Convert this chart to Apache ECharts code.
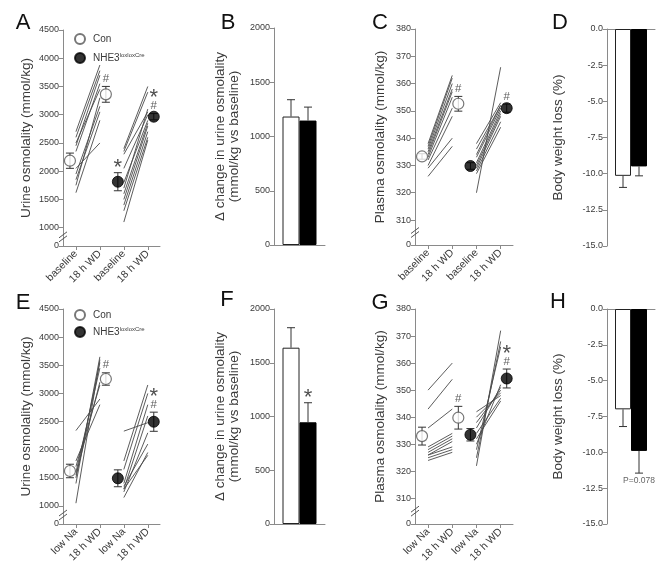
<!DOCTYPE html>
<html><head><meta charset="utf-8">
<script src="https://cdn.jsdelivr.net/npm/echarts@6/dist/echarts.min.js"></script>
<style>html,body{margin:0;padding:0;background:#fff}#c{width:670px;height:573px}</style>
</head><body><div id="c"></div>
<script>
// ---------------- data ----------------
const xLabelsTop = ['baseline', '18 h WD', 'baseline', '18 h WD'];
const xLabelsBottom = ['low Na', '18 h WD', 'low Na', '18 h WD'];
const urineTicks = [1000, 1500, 2000, 2500, 3000, 3500, 4000, 4500];
const plasmaTicks = [310, 320, 330, 340, 350, 360, 370, 380];

// Panel A: urine osmolality, individual animals (baseline -> 18 h WD)
const aConBase = [2700, 2600, 2500, 2450, 2350, 2050, 1950, 1850, 1750, 1620];
const aConWD   = [3880, 3780, 3450, 3700, 3550, 2500, 3150, 3050, 3300, 2900];
const aKoBase  = [2400, 2350, 2300, 2050, 1800, 1700, 1600, 1500, 1400, 1300, 1100];
const aKoWD    = [3500, 3400, 3050, 3000, 2900, 3100, 2850, 2800, 2700, 2600, 2550];
const aConMean = [2186, 3361], aConErr = [135, 140];
const aKoMean  = [1814, 2965], aKoErr  = [160, 55];

// Panel B: delta urine osmolality
const bMean = [1184, 1147], bErr = [155, 124];

// Panel C: plasma osmolality
const cConBase = [338, 337, 336, 335, 334, 333, 332, 330, 329, 326];
const cConWD   = [363, 362, 360, 358, 357, 355, 351, 348, 340, 337];
const cKoBase  = [320, 338, 336, 334, 333, 331, 330, 329, 328, 327];
const cKoWD    = [366, 353, 352, 352, 351, 350, 349, 348, 346, 344];
const cConMean = [333.3, 352.6], cConErr = [1.0, 2.7];
const cKoMean  = [329.8, 351.0], cKoErr  = [1.2, 1.5];

// Panel D: body weight loss
const dMean = [-10.15, -9.5], dErr = [0.8, 0.65];

// Panel E: urine osmolality (low Na -> 18 h WD)
const eConBase = [2340, 1050, 1400, 1500, 1600, 1700, 1800, 1550];
const eConWD   = [2900, 3600, 3650, 3550, 3450, 3150, 2800, 3200];
const eKoBase  = [1800, 1650, 1400, 1300, 1250, 1150, 1300, 2330, 1350];
const eKoWD    = [3150, 3000, 2800, 2600, 2300, 1950, 1900, 2480, 2100];
const eConMean = [1622, 3256], eConErr = [120, 110];
const eKoMean  = [1492, 2497], eKoErr  = [150, 170];

// Panel F
const fMean = [1640, 946], fErr = [186, 182];

// Panel G: plasma osmolality (low Na -> 18 h WD)
const gConBase = [350, 343, 336, 329, 328, 327, 326, 326, 325, 324];
const gConWD   = [360, 354, 343, 334, 333, 332, 331, 329, 328, 327];
const gKoBase  = [322, 325, 328, 338, 340, 342, 336, 334, 332, 330];
const gKoWD    = [372, 368, 366, 350, 349, 348, 351, 347, 346, 352];
const gConMean = [333.0, 339.8], gConErr = [3.3, 4.2];
const gKoMean  = [333.5, 354.3], gKoErr  = [2.3, 3.5];

// Panel H
const hMean = [-7.0, -9.9], hErr = [1.2, 1.55];

// ---------------- layout / style ----------------
const FONT = '"Liberation Sans", Arial, Helvetica, sans-serif';
const AX = '#8a8a8a';
const TXT = '#3a3a3a';
const P = [0.54, 1.54, 2.54, 3.54];
const OFF = 0.25;
const URINE_MIN_A = 676, URINE_MIN_E = 680;
const PLASMA_MIN_C = 300.85, PLASMA_MIN_G = 300.5;

const grids = [
  {left: 63, top: 30, width: 97, height: 216},
  {left: 274, top: 28, width: 51, height: 217},
  {left: 415, top: 29, width: 98, height: 216},
  {left: 607, top: 29, width: 48, height: 217},
  {left: 63, top: 309, width: 97, height: 215},
  {left: 274, top: 309, width: 51, height: 215},
  {left: 415, top: 309, width: 98, height: 215},
  {left: 607, top: 309, width: 48, height: 215}
];

const xAxes = [], yAxes = [], series = [];

function pairedX(g, labels) {
  xAxes.push({
    gridIndex: g, type: 'value', min: 0, max: 4.05,
    axisLine: {show: true, onZero: false, lineStyle: {color: AX, width: 1}},
    axisTick: {show: true, customValues: P, length: 4, lineStyle: {color: AX}},
    axisLabel: {customValues: P, rotate: 45, margin: 6, fontSize: 10.5, color: TXT, fontFamily: FONT,
      formatter: v => labels[Math.round(v - P[0])]},
    splitLine: {show: false}
  });
}
function barX(g) {
  xAxes.push({
    gridIndex: g, type: 'value', min: 0, max: 3,
    axisLine: {show: true, onZero: true, lineStyle: {color: AX, width: 1}},
    axisTick: {show: false}, axisLabel: {show: false}, splitLine: {show: false}
  });
}
function yAxisBase(g, name, gap, extra) {
  return Object.assign({
    gridIndex: g, type: 'value', name: name, nameLocation: 'middle', nameRotate: 90, nameGap: gap,
    nameTextStyle: {fontSize: 13.5, color: TXT, fontFamily: FONT, lineHeight: 14},
    axisLine: {show: true, lineStyle: {color: AX, width: 1}},
    axisTick: {show: true, length: 4, lineStyle: {color: AX}},
    axisLabel: {fontSize: 9, color: TXT, fontFamily: FONT, margin: 4, showMinLabel: true, showMaxLabel: true,
      hideOverlap: false, formatter: v => String(v)},
    splitLine: {show: false}
  }, extra);
}
function urineY(g, minV) {
  const vals = [minV].concat(urineTicks);
  const ax = yAxisBase(g, 'Urine osmolality (mmol/kg)', 30, {min: minV, max: 4500});
  ax.axisTick.customValues = vals;
  ax.axisLabel.customValues = vals;
  ax.axisLabel.formatter = v => (v < 1000 ? '0' : String(v));
  yAxes.push(ax);
}
function plasmaY(g, minV) {
  const vals = [minV].concat(plasmaTicks);
  const ax = yAxisBase(g, 'Plasma osmolality (mmol/kg)', 28, {min: minV, max: 380});
  ax.axisTick.customValues = vals;
  ax.axisLabel.customValues = vals;
  ax.axisLabel.formatter = v => (v < 310 ? '0' : String(v));
  yAxes.push(ax);
}
function deltaY(g) {
  yAxes.push(yAxisBase(g, '\u0394 change in urine osmolality\n(mmol/kg vs baseline)', 33,
    {min: 0, max: 2000, interval: 500}));
}
function weightY(g) {
  const ax = yAxisBase(g, 'Body weight loss (%)', 42, {min: -15, max: 0, interval: 2.5});
  ax.axisLabel.formatter = v => v.toFixed(1);
  yAxes.push(ax);
}

function pairRender(params, api) {
  const a = api.coord([api.value(0), api.value(1)]);
  const b = api.coord([api.value(2), api.value(3)]);
  return {type: 'line', shape: {x1: a[0], y1: a[1], x2: b[0], y2: b[1]},
    style: {stroke: '#4a4a4a', lineWidth: 0.9}};
}
function errRender(params, api) {
  const x = api.value(0), from = api.value(1), to = api.value(2), both = api.value(3);
  const p1 = api.coord([x, from]), p2 = api.coord([x, to]);
  const w = 4, st = {stroke: '#333', lineWidth: 1};
  const ch = [
    {type: 'line', shape: {x1: p1[0], y1: p1[1], x2: p2[0], y2: p2[1]}, style: st},
    {type: 'line', shape: {x1: p2[0] - w, y1: p2[1], x2: p2[0] + w, y2: p2[1]}, style: st}
  ];
  if (both) ch.push({type: 'line', shape: {x1: p1[0] - w, y1: p1[1], x2: p1[0] + w, y2: p1[1]}, style: st});
  return {type: 'group', children: ch};
}

const annRich = {
  s: {fontSize: 22, lineHeight: 13, color: '#222', fontFamily: FONT, padding: [8, 0, 0, 0]},
  h: {fontSize: 11.5, lineHeight: 11, color: '#333', fontFamily: FONT}
};
function annSeries(g, items) {
  series.push({
    type: 'scatter', xAxisIndex: g, yAxisIndex: g, symbolSize: 0, z: 6, silent: true,
    data: items.map(it => ({value: [it[0], it[1]],
      label: {show: true, position: it[3] || 'top', distance: it[4] == null ? 2 : it[4],
        formatter: it[2], rich: annRich, fontFamily: FONT, fontSize: 8.5, color: TXT}}))
  });
}

function pairedPanel(g, conBase, conWD, koBase, koWD, conMean, conErr, koMean, koErr) {
  const lineData = [];
  conBase.forEach((v, i) => lineData.push([P[0], v, P[1], conWD[i]]));
  koBase.forEach((v, i) => lineData.push([P[2], v, P[3], koWD[i]]));
  series.push({type: 'custom', xAxisIndex: g, yAxisIndex: g, renderItem: pairRender,
    encode: {x: [0, 2], y: [1, 3]}, data: lineData, z: 2, silent: true});
  const cx = [P[0] - OFF, P[1] + OFF], kx = [P[2] - OFF, P[3] + OFF];
  const err = [];
  [0, 1].forEach(i => {
    err.push([cx[i], conMean[i] - conErr[i], conMean[i] + conErr[i], 1]);
    err.push([kx[i], koMean[i] - koErr[i], koMean[i] + koErr[i], 1]);
  });
  series.push({type: 'custom', xAxisIndex: g, yAxisIndex: g, renderItem: errRender,
    encode: {x: 0, y: [1, 2]}, data: err, z: 3, silent: true});
  series.push({name: 'Con', type: 'scatter', xAxisIndex: g, yAxisIndex: g, symbol: 'circle', symbolSize: 11, z: 4,
    itemStyle: {color: '#fff', borderColor: '#555', borderWidth: 1.2},
    data: [[cx[0], conMean[0]], [cx[1], conMean[1]]]});
  series.push({name: 'NHE3', type: 'scatter', xAxisIndex: g, yAxisIndex: g, symbol: 'circle', symbolSize: 11, z: 4,
    itemStyle: {color: '#000', borderColor: '#000', borderWidth: 1},
    data: [[kx[0], koMean[0]], [kx[1], koMean[1]]]});
  return {cx, kx};
}

function barPanel(g, mean, errv) {
  series.push({type: 'bar', xAxisIndex: g, yAxisIndex: g, barWidth: grids[g].width / 3, z: 2,
    data: [
      {value: [1, mean[0]], itemStyle: {color: '#fff', borderColor: '#222', borderWidth: 1}},
      {value: [2, mean[1]], itemStyle: {color: '#000', borderColor: '#000', borderWidth: 1}}
    ]});
  const sgn = v => (v < 0 ? -1 : 1);
  series.push({type: 'custom', xAxisIndex: g, yAxisIndex: g, renderItem: errRender,
    encode: {x: 0, y: [1, 2]}, z: 3, silent: true,
    data: [[1, mean[0], mean[0] + sgn(mean[0]) * errv[0], 0], [2, mean[1], mean[1] + sgn(mean[1]) * errv[1], 0]]});
}

// Panel A (0)
pairedX(0, xLabelsTop); urineY(0, URINE_MIN_A);
const pa = pairedPanel(0, aConBase, aConWD, aKoBase, aKoWD, aConMean, aConErr, aKoMean, aKoErr);
annSeries(0, [
  [pa.cx[1], aConMean[1] + aConErr[1], '{h|#}'],
  [pa.kx[0], aKoMean[0] + aKoErr[0], '{s|*}'],
  [pa.kx[1], aKoMean[1] + aKoErr[1], '{s|*}\n{h|#}']
]);
// Panel B (1)
barX(1); deltaY(1); barPanel(1, bMean, bErr);
// Panel C (2)
pairedX(2, xLabelsTop); plasmaY(2, PLASMA_MIN_C);
const pc = pairedPanel(2, cConBase, cConWD, cKoBase, cKoWD, cConMean, cConErr, cKoMean, cKoErr);
annSeries(2, [
  [pc.cx[1], cConMean[1] + cConErr[1], '{h|#}'],
  [pc.kx[1], cKoMean[1] + cKoErr[1], '{h|#}']
]);
// Panel D (3)
barX(3); weightY(3); barPanel(3, dMean, dErr);
// Panel E (4)
pairedX(4, xLabelsBottom); urineY(4, URINE_MIN_E);
const pe = pairedPanel(4, eConBase, eConWD, eKoBase, eKoWD, eConMean, eConErr, eKoMean, eKoErr);
annSeries(4, [
  [pe.cx[1], eConMean[1] + eConErr[1], '{h|#}'],
  [pe.kx[1], eKoMean[1] + eKoErr[1], '{s|*}\n{h|#}']
]);
// Panel F (5)
barX(5); deltaY(5); barPanel(5, fMean, fErr);
annSeries(5, [[2, fMean[1] + fErr[1], '{s|*}']]);
// Panel G (6)
pairedX(6, xLabelsBottom); plasmaY(6, PLASMA_MIN_G);
const pg = pairedPanel(6, gConBase, gConWD, gKoBase, gKoWD, gConMean, gConErr, gKoMean, gKoErr);
annSeries(6, [
  [pg.cx[1], gConMean[1] + gConErr[1], '{h|#}'],
  [pg.kx[1], gKoMean[1] + gKoErr[1], '{s|*}\n{h|#}']
]);
// Panel H (7)
barX(7); weightY(7); barPanel(7, hMean, hErr);
annSeries(7, [[2, hMean[1] - hErr[1], 'P=0.078', 'bottom', 3]]);

const legendBase = {
  data: ['Con', 'NHE3'], orient: 'vertical', icon: 'circle', itemWidth: 10, itemHeight: 10,
  selectedMode: false,
  formatter: n => (n === 'NHE3' ? '{b|NHE3}{s|loxloxCre}' : '{b|Con}'),
  textStyle: {fontFamily: FONT, color: TXT, padding: [0, 0, 0, 3],
    rich: {b: {fontSize: 10, color: TXT, fontFamily: FONT},
           s: {fontSize: 6, color: TXT, fontFamily: FONT, padding: [0, 0, 6, 0]}}}
};

const letters = [['A', 23, 23], ['B', 228, 23], ['C', 380, 23], ['D', 560, 23],
                 ['E', 23, 303], ['F', 227, 300], ['G', 380, 303], ['H', 558, 302]];
const letterGraphics = letters.map(l => ({type: 'text', x: l[1], y: l[2],
    style: {text: l[0], font: '22px ' + FONT, fill: '#111', textAlign: 'center', textVerticalAlign: 'middle'}}));

const chart = echarts.init(document.getElementById('c'), null, {renderer: 'canvas'});
chart.setOption({
  backgroundColor: '#fff',
  animation: false,
  grid: grids,
  xAxis: xAxes,
  yAxis: yAxes,
  legend: [
    Object.assign({}, legendBase, {left: 69, top: 28, itemGap: 7}),
    Object.assign({}, legendBase, {left: 69, top: 304, itemGap: 5})
  ],
  series: series,
  graphic: letterGraphics
});

// axis break marks (//) on the broken y axes
const brk = [];
[[0, URINE_MIN_A, 1000], [2, PLASMA_MIN_C, 310], [4, URINE_MIN_E, 1000], [6, PLASMA_MIN_G, 310]].forEach(b => {
  const p = chart.convertToPixel({gridIndex: b[0]}, [0, (b[1] + b[2]) / 2]);
  [-2, 2].forEach(d => brk.push({type: 'line', z: 100,
    shape: {x1: p[0] - 4, y1: p[1] + d + 3, x2: p[0] + 4, y2: p[1] + d - 3},
    style: {stroke: '#555', lineWidth: 1}}));
});
chart.setOption({graphic: letterGraphics.concat(brk)});
</script></body></html>
